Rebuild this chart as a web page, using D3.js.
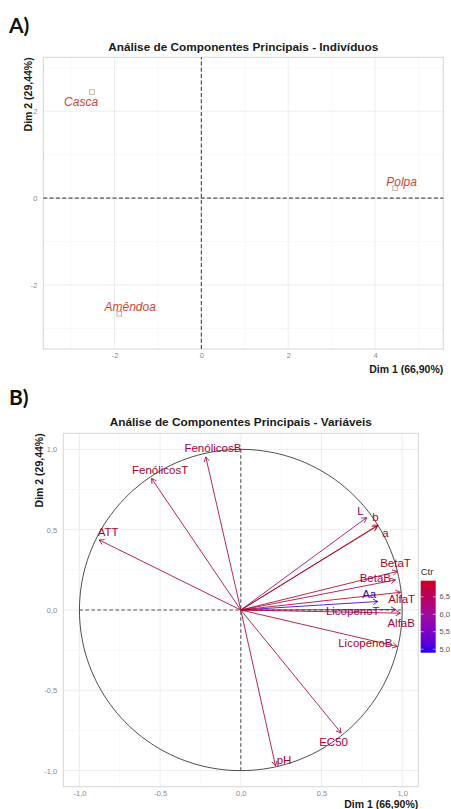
<!DOCTYPE html>
<html>
<head>
<meta charset="utf-8">
<script src="https://cdn.jsdelivr.net/npm/d3@7"></script>
<style>
  body { margin: 0; background: #fff; }
  svg { display: block; font-family: "Liberation Sans", Arial, sans-serif; }
</style>
</head>
<body>
<script>
// indivíduos (painel A)
const indNames = ["Casca", "Polpa", "Amêndoa"];
const indDim1 = [-2.52, 4.46, -1.89];
const indDim2 = [2.44, 0.23, -2.66];

// variáveis (painel B)
const varNames = ["FenólicosB", "FenólicosT", "ATT", "L", "b", "a", "BetaT", "BetaB",
  "Aa", "AlfaT", "LicopenoT", "AlfaB", "LicopenoB", "EC50", "pH"];
const varDim1 = [-0.217, -0.553, -0.878, 0.78, 0.851, 0.845, 0.97, 0.958,
  0.849, 0.989, 0.96, 0.989, 0.969, 0.621, 0.215];
const varDim2 = [0.953, 0.819, 0.436, 0.575, 0.529, 0.522, 0.24, 0.187,
  0.053, 0.11, 0.003, -0.02, -0.227, -0.765, -0.97];
const varCtr = [6.61, 6.76, 6.65, 6.3, 6.9, 6.86, 6.91, 6.59,
  5.0, 6.85, 6.38, 6.77, 6.86, 6.72, 6.83];

// eixos
const indTicksX = [-2, 0, 2, 4];
const indTicksY = [-2, 0, 2];
const varTicks = [-1, -0.5, 0, 0.5, 1];
const ctrTicks = [5.0, 5.5, 6.0, 6.5];
const titleInd = "Análise de Componentes Principais - Indivíduos";
const titleVar = "Análise de Componentes Principais - Variáveis";
const dim1Label = "Dim 1 (66,90%)";
const dim2Label = "Dim 2 (29,44%)";

// posição dos rótulos (saída do repel, em unidades dos eixos)
const indLabelAt = [[-2.77, 2.22], [4.61, 0.38], [-1.64, -2.49]];
const varLabelAt = [[-0.173, 1.008], [-0.5, 0.873], [-0.822, 0.488], [0.741, 0.618],
  [0.834, 0.576], [0.896, 0.477], [0.959, 0.29], [0.834, 0.198], [0.796, 0.1],
  [0.997, 0.069], [0.694, -0.003], [0.994, -0.078], [0.772, -0.204],
  [0.575, -0.822], [0.268, -0.932]];

const W = 451, H = 809;
const svg = d3.select("body").append("svg").attr("width", W).attr("height", H);

// vírgula decimal e hífen como em ggplot
const pt = d3.formatLocale({ decimal: ",", thousands: ".", grouping: [3], currency: ["", ""], minus: "-" });
const fmtInt = pt.format("d");
const fmt1 = pt.format(".1f");

const gridMajor = "#ebebeb", gridMinor = "#f4f4f4", border = "#d6d6d6";
const tickCol = "#8a8a8a";

function panelGrid(g, x, y, majX, majY, minX, minY) {
  g.selectAll(".minx").data(minX).join("line")
    .attr("x1", (d) => x(d)).attr("x2", (d) => x(d))
    .attr("y1", y.range()[0]).attr("y2", y.range()[1])
    .attr("stroke", gridMinor).attr("stroke-width", 0.6);
  g.selectAll(".miny").data(minY).join("line")
    .attr("y1", (d) => y(d)).attr("y2", (d) => y(d))
    .attr("x1", x.range()[0]).attr("x2", x.range()[1])
    .attr("stroke", gridMinor).attr("stroke-width", 0.6);
  g.selectAll(".majx").data(majX).join("line")
    .attr("x1", (d) => x(d)).attr("x2", (d) => x(d))
    .attr("y1", y.range()[0]).attr("y2", y.range()[1])
    .attr("stroke", gridMajor).attr("stroke-width", 0.9);
  g.selectAll(".majy").data(majY).join("line")
    .attr("y1", (d) => y(d)).attr("y2", (d) => y(d))
    .attr("x1", x.range()[0]).attr("x2", x.range()[1])
    .attr("stroke", gridMajor).attr("stroke-width", 0.9);
  g.append("rect")
    .attr("x", x.range()[0]).attr("y", y.range()[1])
    .attr("width", x.range()[1] - x.range()[0])
    .attr("height", y.range()[0] - y.range()[1])
    .attr("fill", "none").attr("stroke", border).attr("stroke-width", 1);
}

function axes(g, x, y, ticksX, ticksY, f) {
  const ax = g.append("g")
    .attr("transform", `translate(0,${y.range()[0] + 2})`)
    .call(d3.axisBottom(x).tickValues(ticksX).tickFormat(f).tickSize(0).tickPadding(1.5));
  const ay = g.append("g")
    .attr("transform", `translate(${x.range()[0] - 3},0)`)
    .call(d3.axisLeft(y).tickValues(ticksY).tickFormat(f).tickSize(0));
  [ax, ay].forEach((a) => {
    a.select(".domain").remove();
    a.selectAll("text").attr("fill", tickCol).attr("font-size", 7.5)
      .attr("font-family", "Liberation Sans, Arial, sans-serif");
  });
}

function titles(xr, yr, title, titleY, xTitleY, yTitleX) {
  svg.append("text").attr("x", (xr[0] + xr[1]) / 2).attr("y", titleY)
    .attr("text-anchor", "middle").attr("font-weight", "bold").attr("font-size", 11.8)
    .attr("fill", "#1a1a1a").text(title);
  svg.append("text").attr("x", xr[1]).attr("y", xTitleY)
    .attr("text-anchor", "end").attr("font-weight", "bold").attr("font-size", 10.5)
    .attr("fill", "#1a1a1a").text(dim1Label);
  svg.append("text")
    .attr("transform", `translate(${yTitleX},${yr[1]}) rotate(-90)`)
    .attr("text-anchor", "end").attr("font-weight", "bold").attr("font-size", 10.5)
    .attr("fill", "#1a1a1a").text(dim2Label);
}

// letras dos painéis
svg.append("text").attr("x", 9).attr("y", 33).attr("font-family", "Lato, sans-serif")
  .attr("font-weight", "bold").attr("font-size", 21).attr("fill", "#111").text("A)");
svg.append("text").attr("x", 9).attr("y", 405).attr("font-family", "Lato, sans-serif")
  .attr("font-weight", "bold").attr("font-size", 21).attr("fill", "#111").text("B)");

// ---------------- Painel A ----------------
const xA = d3.scaleLinear([-3.64, 5.57], [43.3, 443.3]);
const yA = d3.scaleLinear([-3.47, 3.24], [349, 57.3]);
const gA = svg.append("g");
panelGrid(gA, xA, yA, indTicksX, indTicksY, [-3, -1, 1, 3, 5], [-3, -1, 1, 3]);
axes(gA, xA, yA, indTicksX, indTicksY, fmtInt);

gA.append("line").attr("x1", xA(0)).attr("x2", xA(0)).attr("y1", yA.range()[0]).attr("y2", yA.range()[1])
  .attr("stroke", "#555").attr("stroke-width", 1.2).attr("stroke-dasharray", "4,2.3");
gA.append("line").attr("y1", yA(0)).attr("y2", yA(0)).attr("x1", xA.range()[0]).attr("x2", xA.range()[1])
  .attr("stroke", "#555").attr("stroke-width", 1.2).attr("stroke-dasharray", "4,2.3");

const indCol = "#cc4634";
gA.selectAll(".pt").data(indNames).join("rect")
  .attr("x", (d, i) => xA(indDim1[i]) - 2.3).attr("y", (d, i) => yA(indDim2[i]) - 2.3)
  .attr("width", 4.6).attr("height", 4.6)
  .attr("fill", "none").attr("stroke", "#c49c8c").attr("stroke-width", 0.8);
gA.selectAll(".lab").data(indNames).join("text")
  .attr("x", (d, i) => xA(indLabelAt[i][0])).attr("y", (d, i) => yA(indLabelAt[i][1]))
  .attr("dy", "0.35em").attr("text-anchor", "middle")
  .attr("font-style", "italic").attr("font-size", 12).attr("fill", indCol).text((d) => d);

titles(xA.range(), yA.range(), titleInd, 50.5, 372.5, 32);

// ---------------- Painel B ----------------
const xB = d3.scaleLinear([-1.1, 1.1], [63.3, 418.3]);
const yB = d3.scaleLinear([-1.1, 1.1], [786.7, 433.3]);
const gB = svg.append("g");
panelGrid(gB, xB, yB, varTicks, varTicks, [-0.75, -0.25, 0.25, 0.75], [-0.75, -0.25, 0.25, 0.75]);
axes(gB, xB, yB, varTicks, varTicks, fmt1);

// círculo de correlação
const circle = d3.range(0, 360, 2).map((a) => [Math.cos(a * Math.PI / 180), Math.sin(a * Math.PI / 180)]);
gB.append("path")
  .attr("d", d3.line().x((d) => xB(d[0])).y((d) => yB(d[1])).curve(d3.curveCardinalClosed)(circle))
  .attr("fill", "none").attr("stroke", "#222").attr("stroke-width", 0.8);

gB.append("line").attr("x1", xB(0)).attr("x2", xB(0)).attr("y1", yB(-1)).attr("y2", yB(1))
  .attr("stroke", "#555").attr("stroke-width", 1.1).attr("stroke-dasharray", "3.5,2.5");
gB.append("line").attr("y1", yB(0)).attr("y2", yB(0)).attr("x1", xB(-1)).attr("x2", xB(1))
  .attr("stroke", "#555").attr("stroke-width", 1.1).attr("stroke-dasharray", "3.5,2.5");

const ctrColor = d3.scaleLinear()
  .domain([4.9, 5.95, 6.96])
  .range(["#2200f0", "#9c0ea4", "#cc0020"])
  .interpolate(d3.interpolateLab);
// as setas finas aparecem mais escuras na figura
const markColor = (c) => d3.color(ctrColor(c)).darker(0.35).formatHex();

const arrows = gB.selectAll(".arrow").data(varNames).join("g");
arrows.append("line")
  .attr("x1", xB(0)).attr("y1", yB(0))
  .attr("x2", (d, i) => xB(varDim1[i])).attr("y2", (d, i) => yB(varDim2[i]))
  .attr("stroke", (d, i) => markColor(varCtr[i])).attr("stroke-width", 0.85);
arrows.append("path")
  .attr("d", (d, i) => {
    const x2 = xB(varDim1[i]), y2 = yB(varDim2[i]);
    const ang = Math.atan2(y2 - yB(0), x2 - xB(0));
    const len = 5.5, spread = Math.PI / 6;
    const p1 = [x2 - len * Math.cos(ang - spread), y2 - len * Math.sin(ang - spread)];
    const p2 = [x2 - len * Math.cos(ang + spread), y2 - len * Math.sin(ang + spread)];
    return `M${p1[0]},${p1[1]}L${x2},${y2}L${p2[0]},${p2[1]}`;
  })
  .attr("fill", "none").attr("stroke", (d, i) => markColor(varCtr[i])).attr("stroke-width", 0.85);
gB.selectAll(".vlab").data(varNames).join("text")
  .attr("x", (d, i) => xB(varLabelAt[i][0])).attr("y", (d, i) => yB(varLabelAt[i][1]))
  .attr("dy", "0.35em").attr("text-anchor", "middle")
  .attr("font-size", 11.5).attr("fill", (d, i) => markColor(varCtr[i])).text((d) => d);

titles(xB.range(), yB.range(), titleVar, 426, 807.5, 43);

// legenda Ctr
const barY = d3.scaleLinear([4.9, 6.96], [652.7, 580.7]);
const defs = svg.append("defs");
const grad = defs.append("linearGradient").attr("id", "ctrGrad")
  .attr("x1", 0).attr("y1", 1).attr("x2", 0).attr("y2", 0);
grad.selectAll("stop").data(d3.range(0, 1.0001, 0.1)).join("stop")
  .attr("offset", (d) => d)
  .attr("stop-color", (d) => ctrColor(4.9 + d * (6.96 - 4.9)));
svg.append("rect").attr("x", 420.7).attr("y", barY(6.96)).attr("width", 15)
  .attr("height", barY(4.9) - barY(6.96)).attr("fill", "url(#ctrGrad)");
svg.selectAll(".ctick").data(ctrTicks).join("line")
  .attr("x1", 420.7).attr("x2", 423.5).attr("y1", (d) => barY(d)).attr("y2", (d) => barY(d))
  .attr("stroke", "#fff").attr("stroke-width", 0.6);
svg.selectAll(".ctick2").data(ctrTicks).join("line")
  .attr("x1", 432.9).attr("x2", 435.7).attr("y1", (d) => barY(d)).attr("y2", (d) => barY(d))
  .attr("stroke", "#fff").attr("stroke-width", 0.6);
svg.selectAll(".clab").data(ctrTicks).join("text")
  .attr("x", 439.5).attr("y", (d) => barY(d)).attr("dy", "0.35em")
  .attr("font-size", 7.5).attr("fill", "#555").text((d) => fmt1(d));
svg.append("text").attr("x", 420.7).attr("y", 575).attr("font-size", 9.5)
  .attr("fill", "#333").text("Ctr");
</script>
</body>
</html>
